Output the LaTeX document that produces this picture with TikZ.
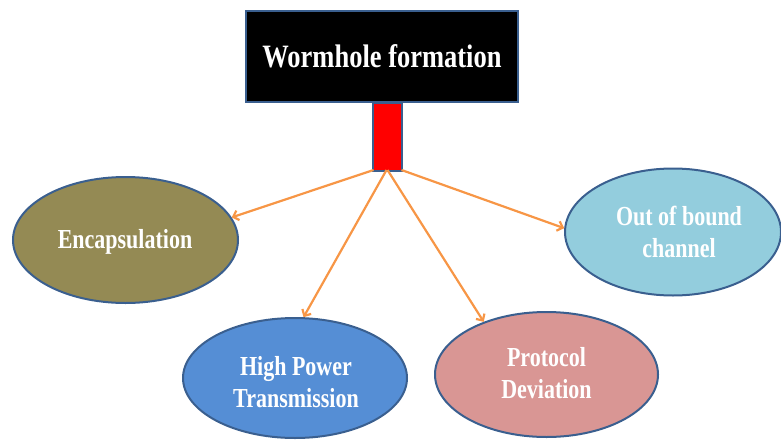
\documentclass[tikz,border=0pt]{standalone}
\usepackage{fontspec}
\setmainfont{Liberation Serif}
\usetikzlibrary{shapes.geometric,arrows.meta}
\definecolor{edgeblue}{HTML}{3A5F8F}
\definecolor{olivefill}{HTML}{948A54}
\definecolor{bluefill}{HTML}{558ED5}
\definecolor{pinkfill}{HTML}{D99694}
\definecolor{skyfill}{HTML}{93CDDD}
\definecolor{arroworange}{HTML}{F79646}
\tikzset{
  bubble/.style={ellipse, draw=edgeblue, line width=2pt, inner sep=0pt},
  bubbletext/.style={text=white, font=\fontsize{22}{25.5}\selectfont\bfseries, inner sep=0pt},
  link/.style={draw=arroworange, line width=2.2pt, -{Straight Barb[length=5pt,width=10pt]}},
}
\newcommand{\tallt}[1]{\scalebox{1}[1.25]{\begin{tabular}{@{}c@{}}#1\end{tabular}}}
\begin{document}
\begin{tikzpicture}[x=1pt,y=-1pt]
\useasboundingbox (0,0) rectangle (781,439);
\node[draw=edgeblue, fill=black, line width=1.6pt, minimum width=272pt, minimum height=91pt, inner sep=0pt,
  text=white, font=\fontsize{26.5}{30}\selectfont\bfseries] (top) at (382,56.5) {\scalebox{1}[1.23]{Wormhole formation}};
\node[draw=edgeblue, fill=red, line width=1.6pt, minimum width=29pt, minimum height=68pt, inner sep=0pt, anchor=north] (stem) at (387.5,102) {};
\node[bubble, fill=olivefill, minimum width=225pt, minimum height=126pt] (enc) at (125.5,240) {};
\node[bubbletext] (enct) at (125,242) {\tallt{Encapsulation}};
\node[bubble, fill=bluefill, minimum width=224pt, minimum height=120pt] (hp) at (295,378) {};
\node[bubbletext] (hpt) at (296,385) {\tallt{High Power\\Transmission}};
\node[bubble, fill=pinkfill, minimum width=223pt, minimum height=125pt] (pd) at (546.5,374.5) {};
\node[bubbletext] (pdt) at (546.5,376) {\tallt{Protocol\\Deviation}};
\node[bubble, fill=skyfill, minimum width=216pt, minimum height=127pt] (oob) at (673,232) {};
\node[bubbletext] (oobt) at (679,235) {\tallt{Out of bound\\channel}};
\coordinate (s1) at (373.5,170);
\coordinate (s2) at (386.5,170);
\coordinate (s3) at (387.5,170);
\coordinate (s4) at (401.5,170);
\draw[link] (s1) -- (enc.12);
\draw[link] (s2) -- (hp.82);
\draw[link] (s3) -- (pd.140);
\draw[link] (s4) -- (oob.178);
\end{tikzpicture}
\end{document}
